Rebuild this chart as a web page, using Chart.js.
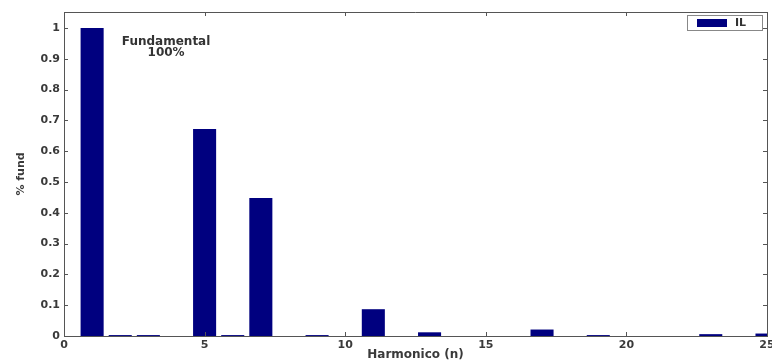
<!DOCTYPE html>
<html>
<head>
<meta charset="utf-8">
<script src="https://cdn.jsdelivr.net/npm/chart.js@4/dist/chart.umd.min.js"></script>
<style>
  html, body { margin: 0; padding: 0; background: #fff; }
  #wrap { width: 772px; height: 362px; position: relative; }
</style>
</head>
<body>
<div id="wrap"><canvas id="chart"></canvas></div>
<script>
const harmonics = [1, 2, 3, 5, 6, 7, 9, 11, 13, 17, 19, 23, 25];
const values = [1.0, 0.003, 0.003, 0.672, 0.003, 0.448, 0.003, 0.087, 0.012, 0.021, 0.003, 0.006, 0.008];
const seriesLabel = "IL";
const xTitle = "Harmonico (n)";
const yTitle = "% fund";
const noteLines = ["Fundamental", "100%"];

const navy = "#00007f";
const axisColor = "#555";
const textColor = "#3a3a3a";
const font = "'DejaVu Sans', Verdana, sans-serif";

// MATLAB-style box: top/right borders and inward ticks on all sides
const boxPlugin = {
  id: "box",
  afterDraw(chart) {
    const { ctx, chartArea: a, scales } = chart;
    ctx.save();
    ctx.strokeStyle = axisColor;
    ctx.lineWidth = 1;
    ctx.beginPath();
    ctx.moveTo(a.left, a.top + 0.5);
    ctx.lineTo(a.right + 0.5, a.top + 0.5);
    ctx.lineTo(a.right + 0.5, a.bottom);
    ctx.stroke();
    ctx.beginPath();
    scales.x.ticks.forEach((t) => {
      const px = Math.round(scales.x.getPixelForValue(t.value)) + 0.5;
      ctx.moveTo(px, a.bottom); ctx.lineTo(px, a.bottom - 4);
      ctx.moveTo(px, a.top); ctx.lineTo(px, a.top + 4);
    });
    scales.y.ticks.forEach((t) => {
      const py = Math.round(scales.y.getPixelForValue(t.value)) + 0.5;
      ctx.moveTo(a.left, py); ctx.lineTo(a.left + 4, py);
      ctx.moveTo(a.right, py); ctx.lineTo(a.right - 4, py);
    });
    ctx.stroke();

    // annotation
    ctx.fillStyle = "#333";
    ctx.font = "bold 12px " + font;
    ctx.textAlign = "center";
    ctx.textBaseline = "middle";
    const nx = scales.x.getPixelForValue(3.63);
    ctx.fillText(noteLines[0], nx, scales.y.getPixelForValue(0.956));
    ctx.fillText(noteLines[1], nx, scales.y.getPixelForValue(0.919));

    // legend box
    const lx = a.right - 80, ly = a.top + 3;
    ctx.fillStyle = "#fff";
    ctx.fillRect(lx, ly, 75, 15);
    ctx.strokeStyle = "#888";
    ctx.strokeRect(lx + 0.5, ly + 0.5, 75, 15);
    ctx.fillStyle = navy;
    ctx.fillRect(lx + 10, ly + 4, 30, 8);
    ctx.fillStyle = "#333";
    ctx.font = "bold 11px " + font;
    ctx.textAlign = "left";
    ctx.fillText(seriesLabel, lx + 48, ly + 8.5);
    ctx.restore();
  },
};

new Chart(document.getElementById("chart"), {
  type: "bar",
  data: {
    datasets: [{
      label: seriesLabel,
      data: harmonics.map((h, i) => ({ x: h, y: values[i] })),
      backgroundColor: navy,
      borderWidth: 0,
      barPercentage: 0.82,
      categoryPercentage: 1,
    }],
  },
  options: {
    responsive: true,
    maintainAspectRatio: false,
    animation: false,
    layout: { padding: { top: 12, right: 5, left: 0, bottom: 0 } },
    plugins: { legend: { display: false }, tooltip: { enabled: false } },
    scales: {
      x: {
        type: "linear",
        min: 0,
        max: 25,
        offset: false,
        grid: { display: false, drawTicks: false },
        border: { color: axisColor },
        ticks: { stepSize: 5, padding: 3, color: textColor, font: { family: font, size: 11, weight: "bold" }, maxRotation: 0 },
        title: { display: true, text: xTitle, color: textColor, padding: { top: 0, bottom: 0 }, font: { family: font, size: 12, weight: "bold" } },
        afterFit: (s) => { s.height = 26; s.paddingLeft = 0; s.paddingRight = 0; },
      },
      y: {
        min: 0,
        max: 1.052,
        grid: { display: false, drawTicks: false },
        border: { color: axisColor },
        ticks: {
          stepSize: 0.1,
          includeBounds: false,
          padding: 4,
          color: textColor,
          font: { family: font, size: 11, weight: "bold" },
          callback: (v) => String(Math.round(v * 10) / 10),
        },
        title: { display: true, text: yTitle, color: textColor, padding: { top: 15, bottom: 0 }, font: { family: font, size: 11, weight: "bold" } },
        afterFit: (s) => { s.width = 64; },
      },
    },
  },
  plugins: [boxPlugin],
});
</script>
</body>
</html>
